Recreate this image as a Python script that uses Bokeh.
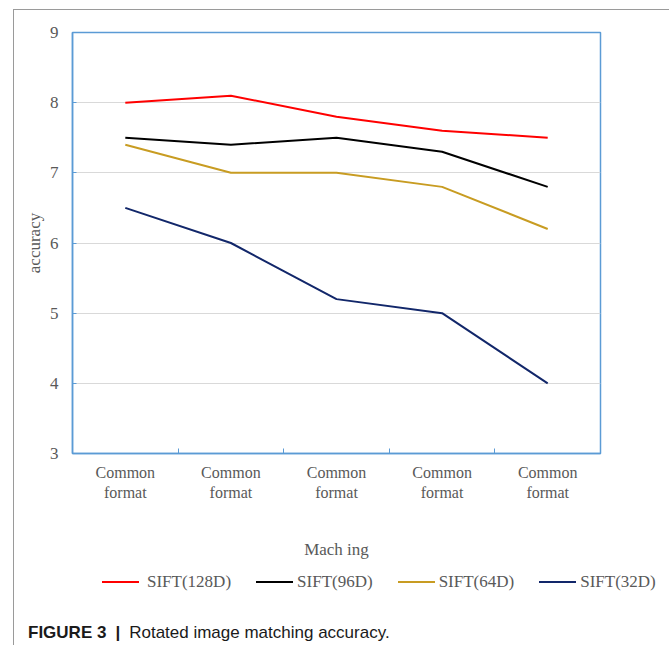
from bokeh.plotting import figure
from bokeh.models import FixedTicker, ColumnDataSource, Range1d, Div, Column
from bokeh.embed import file_html
from bokeh.resources import INLINE

# chart data
categories = ["Common\nformat"] * 5
x_pos = [1, 2, 3, 4, 5]
sift_128 = [8.0, 8.1, 7.8, 7.6, 7.5]
sift_96 = [7.5, 7.4, 7.5, 7.3, 6.8]
sift_64 = [7.4, 7.0, 7.0, 6.8, 6.2]
sift_32 = [6.5, 6.0, 5.2, 5.0, 4.0]
series_names = ["SIFT(128D)", "SIFT(96D)", "SIFT(64D)", "SIFT(32D)"]
series_colors = ["#FF0000", "#000000", "#C89C22", "#12276A"]
y_ticks = [3, 4, 5, 6, 7, 8, 9]

SERIF = "Liberation Serif"
GREY = "#595959"
BLUE = "#5B9BD5"

p = figure(frame_width=528, frame_height=421, output_backend="svg",
           toolbar_location=None,
           x_range=Range1d(0.5, 5.5), y_range=Range1d(3, 9),
           min_border_left=58, min_border_right=66, min_border_top=22,
           min_border_bottom=110)
p.background_fill_color = "white"
p.border_fill_color = "white"
p.outline_line_color = BLUE
p.outline_line_width = 1.5

# x axis: labels at category centres, small inner ticks at category boundaries
p.xaxis.ticker = FixedTicker(ticks=x_pos, minor_ticks=[1.5, 2.5, 3.5, 4.5])
p.xaxis.major_label_overrides = {x: c for x, c in zip(x_pos, categories)}
p.xaxis.major_tick_in = 0
p.xaxis.major_tick_out = 0
p.xaxis.minor_tick_in = 5
p.xaxis.minor_tick_out = 0
p.xaxis.minor_tick_line_color = BLUE
p.xaxis.axis_line_color = BLUE
p.xaxis.axis_line_width = 1.5
p.xaxis.major_label_text_font = SERIF
p.xaxis.major_label_text_font_size = "16px"
p.xaxis.major_label_text_color = GREY
p.xaxis.major_label_standoff = 10
p.xaxis.axis_label = "Mach ing"
p.xaxis.axis_label_text_font = SERIF
p.xaxis.axis_label_text_font_size = "17px"
p.xaxis.axis_label_text_font_style = "normal"
p.xaxis.axis_label_text_color = GREY
p.xaxis.axis_label_standoff = 36

# y axis
p.yaxis.ticker = FixedTicker(ticks=y_ticks, minor_ticks=[])
p.yaxis.major_tick_in = 4
p.yaxis.major_tick_out = 0
p.yaxis.major_tick_line_color = BLUE
p.yaxis.axis_line_color = BLUE
p.yaxis.axis_line_width = 1.5
p.yaxis.major_label_text_font = SERIF
p.yaxis.major_label_text_font_size = "17px"
p.yaxis.major_label_text_color = GREY
p.yaxis.major_label_standoff = 14
p.yaxis.axis_label = "accuracy"
p.yaxis.axis_label_text_font = SERIF
p.yaxis.axis_label_text_font_size = "17px"
p.yaxis.axis_label_text_font_style = "normal"
p.yaxis.axis_label_text_color = GREY
p.yaxis.axis_label_standoff = 3

p.xgrid.visible = False
p.ygrid.ticker = FixedTicker(ticks=[4, 5, 6, 7, 8])
p.ygrid.grid_line_color = "#D9D9D9"
p.ygrid.grid_line_width = 1

for vals, col in zip([sift_128, sift_96, sift_64, sift_32], series_colors):
    src = ColumnDataSource(dict(x=x_pos, y=vals))
    p.line("x", "y", source=src, line_color=col, line_width=2)

# horizontal key row under the chart, one swatch + name per series
key_items = []
for i, (name, col) in enumerate(zip(series_names, series_colors)):
    gap = 8 if i == 0 else 4
    key_items.append(
        '<span style="display:inline-flex; align-items:center; margin-right:25px">'
        f'<span style="display:inline-block; width:37px; height:0; '
        f'border-top:2px solid {col}; margin-right:{gap}px"></span>{name}</span>')
key = Div(text="".join(key_items), width=650, height=30, margin=(0, 0, 0, 88),
          styles={"font-family": SERIF, "font-size": "17px", "color": GREY,
                  "line-height": "30px", "white-space": "nowrap"})

caption = Div(
    text=('<span style="font-weight:bold">FIGURE 3</span>'
          '<span style="font-weight:bold; padding:0 9px 0 9px">|</span>'
          'Rotated image matching accuracy.'),
    width=620, height=24, margin=(28, 0, 0, 14),
    styles={"font-family": "Liberation Sans", "font-size": "17px",
            "color": "#1A1A1A"})

layout = Column(children=[p, key, caption], margin=(9, 2, 0, 13),
                styles={"border-top": "1.5px solid #9A9A9A",
                        "border-left": "1.5px solid #9A9A9A",
                        "border-right": "1.5px solid #9A9A9A"})

open("out.html", "w").write(file_html(layout, INLINE))
